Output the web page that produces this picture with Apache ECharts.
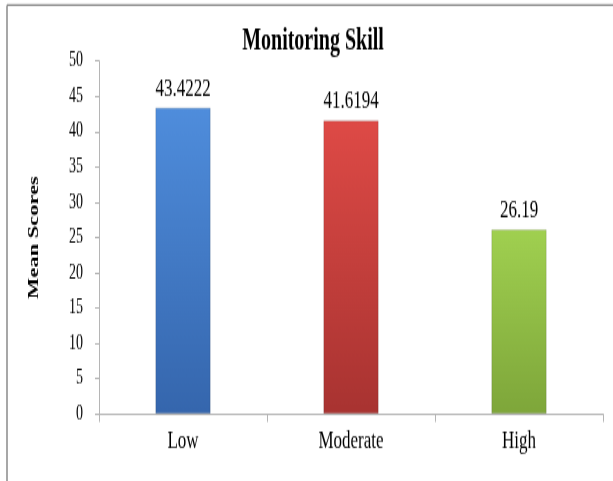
<!DOCTYPE html>
<html>
<head>
<meta charset="utf-8">
<script src="https://cdn.jsdelivr.net/npm/echarts@6/dist/echarts.min.js"></script>
<style>
html,body{margin:0;padding:0;background:#fff;overflow:hidden;}
#wrap{width:613px;height:481px;overflow:hidden;}
#c{width:613px;height:321px;transform:scaleY(1.4984);transform-origin:0 0;}
</style>
</head>
<body>
<div id="wrap"><div id="c"></div></div>
<script>
const categories = ['Low', 'Moderate', 'High'];
const values = [43.4222, 41.6194, 26.19];
const labels = ['43.4222', '41.6194', '26.19'];
const yTicks = [0, 5, 10, 15, 20, 25, 30, 35, 40, 45, 50];

const colors = [
  ['#4f8ddc', '#3566ad'],
  ['#de4a46', '#a83331'],
  ['#a0d050', '#7ea63a']
];
function grad(c) {
  return new echarts.graphic.LinearGradient(0, 0, 0, 1, [
    {offset: 0, color: c[0]}, {offset: 1, color: c[1]}
  ]);
}
const chart = echarts.init(document.getElementById('c'));
const serif = '"Liberation Serif", "DejaVu Serif", serif';
chart.setOption({
  animation: false,
  backgroundColor: '#fff',
  title: {
    text: 'Monitoring Skill',
    left: 308, top: 12.5, textAlign: 'center',
    textStyle: {fontFamily: serif, fontSize: 20, fontWeight: 'bold', color: '#000'}
  },
  graphic: [
    {type: 'line', shape: {x1: 7, y1: 3.4, x2: 613, y2: 3.4}, style: {stroke: '#8a8a8a', lineWidth: 1.4}},
    {type: 'line', shape: {x1: 7, y1: 3.4, x2: 7, y2: 321}, style: {stroke: '#8a8a8a', lineWidth: 1.5}}
  ],
  grid: {left: 99, right: 10, top: 40.7, bottom: 44.7},
  xAxis: {
    type: 'category',
    data: categories,
    axisLine: {lineStyle: {color: '#b5b5b5', width: 1}},
    axisTick: {show: true, length: 5.3, lineStyle: {color: '#b5b5b5'}},
    axisLabel: {fontFamily: serif, fontSize: 17, color: '#000', margin: 10}
  },
  yAxis: {
    type: 'value',
    min: 0, max: 50, interval: 5,
    name: 'Mean Scores',
    nameLocation: 'middle',
    nameGap: 57,
    nameTextStyle: {fontFamily: serif, fontSize: 15, fontWeight: 'bold', color: '#000'},
    axisLine: {show: true, lineStyle: {color: '#b5b5b5', width: 1}},
    axisTick: {show: true, length: 4, lineStyle: {color: '#b5b5b5'}},
    splitLine: {show: false},
    axisLabel: {fontFamily: serif, fontSize: 14, color: '#000', margin: 16,
      formatter: v => yTicks.includes(v) ? String(v) : ''}
  },
  series: [{
    type: 'bar',
    barWidth: '33%',
    data: values.map((v, i) => ({
      value: v,
      itemStyle: {color: grad(colors[i]), borderColor: 'rgba(0,0,0,0.12)', borderWidth: 1}
    })),
    label: {
      show: true, position: 'top', distance: 4,
      fontFamily: serif, fontSize: 17, color: '#000',
      formatter: p => labels[p.dataIndex]
    }
  }]
});
</script>
</body>
</html>
